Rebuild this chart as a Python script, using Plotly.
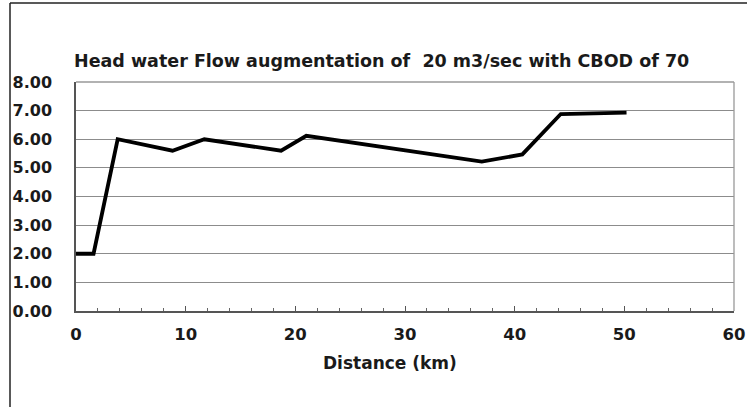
import plotly.graph_objects as go

distance_km = [0, 1.6, 3.8, 8.8, 11.7, 18.7, 21.0, 30.0, 37.0, 40.7, 44.2, 50.2]
do_values = [2.0, 2.0, 6.0, 5.6, 6.0, 5.6, 6.12, 5.62, 5.22, 5.47, 6.88, 6.93]
y_ticks = [0, 1, 2, 3, 4, 5, 6, 7, 8]
y_tick_labels = ["0.00", "1.00", "2.00", "3.00", "4.00", "5.00", "6.00", "7.00", "8.00"]
x_ticks = [0, 10, 20, 30, 40, 50, 60]

title_text = "Head water Flow augmentation of&nbsp; 20 m3/sec with CBOD of 70"
x_title = "Distance (km)"

fig = go.Figure()
fig.add_trace(go.Scatter(x=distance_km, y=do_values, mode="lines",
                         line=dict(color="#000000", width=3.8), showlegend=False,
                         hoverinfo="skip"))

W, H = 747, 407
L, R, T, B = 76, 13, 82, 96
PW, PH = W - L - R, H - T - B

def px(x):
    return (x - L) / PW

def py(y):
    return (H - B - y) / PH

FONT = "DejaVu Sans, Verdana, sans-serif"

fig.update_layout(
    width=W, height=H,
    margin=dict(l=L, r=R, t=T, b=B, autoexpand=False),
    paper_bgcolor="white", plot_bgcolor="white",
    xaxis=dict(range=[0, 60], tickvals=x_ticks, ticktext=[str(v) for v in x_ticks],
               automargin=False,
               showgrid=False, zeroline=False, showline=True, linecolor="#555555", linewidth=1.5,
               ticks="inside", ticklen=5, tickcolor="#555555",
               minor=dict(dtick=2, ticks="inside", ticklen=3, tickcolor="#666666", showgrid=False),
               tickfont=dict(family=FONT, size=16.5, color="#1a1a1a", weight="bold"),
               ticklabelstandoff=7),
    yaxis=dict(range=[0, 8], tickvals=y_ticks, ticktext=y_tick_labels,
               automargin=False,
               showgrid=True, gridcolor="#8c8c8c", gridwidth=1.4, zeroline=False,
               showline=True, linecolor="#555555", linewidth=1.5, ticks="",
               tickfont=dict(family=FONT, size=16, color="#1a1a1a", weight="bold"),
               ticklabelstandoff=19),
    shapes=[
        dict(type="line", xref="paper", yref="paper", x0=0, x1=1, y0=1, y1=1,
             line=dict(color="#999999", width=1.3)),
        dict(type="line", xref="paper", yref="paper", x0=1, x1=1, y0=0, y1=1,
             line=dict(color="#999999", width=1.3)),
        dict(type="line", xref="paper", yref="paper",
             x0=px(10), x1=px(W + 2), y0=py(3), y1=py(3),
             line=dict(color="#222222", width=1.5)),
        dict(type="line", xref="paper", yref="paper",
             x0=px(10), x1=px(10), y0=py(3), y1=py(H + 2),
             line=dict(color="#222222", width=1.5)),
    ],
    annotations=[
        dict(text="<b>" + title_text + "</b>", xref="paper", yref="paper",
             x=px(72), y=py(61), xanchor="left", yanchor="middle", showarrow=False,
             font=dict(family=FONT, size=17.5, color="#1a1a1a")),
        dict(text="<b>" + x_title + "</b>", xref="paper", yref="paper",
             x=px(390), y=py(363), xanchor="center", yanchor="middle", showarrow=False,
             font=dict(family=FONT, size=17, color="#1a1a1a")),
    ],
)

fig.write_html("out.html", config={"displayModeBar": False},
               post_script="document.body.style.margin='0px';")
